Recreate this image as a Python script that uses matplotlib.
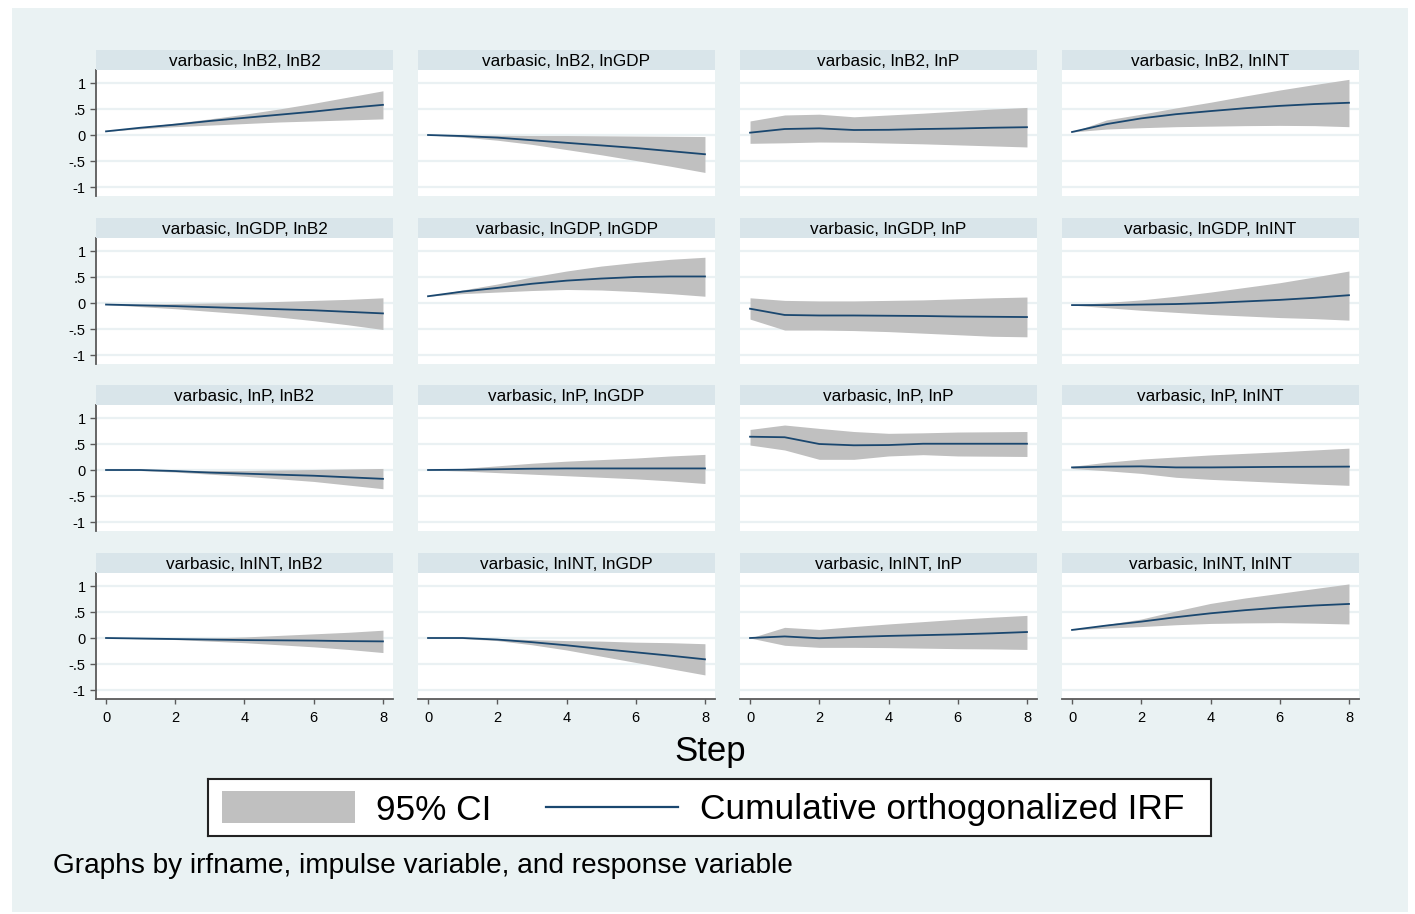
import matplotlib
matplotlib.use("Agg")
import matplotlib.pyplot as plt
from matplotlib.patches import Rectangle
from matplotlib.lines import Line2D

plt.rcParams["font.family"] = ["Liberation Sans", "DejaVu Sans"]

W, H = 1415, 914

steps = [0, 1, 2, 3, 4, 5, 6, 7, 8]
variables = ["lnB2", "lnGDP", "lnP", "lnINT"]
yticks = [-1, -0.5, 0, 0.5, 1]
ytick_labels = ["-1", "-.5", "0", ".5", "1"]
xticks = [0, 2, 4, 6, 8]

# impulse lnB2
b2_b2_irf = [0.07, 0.14, 0.20, 0.27, 0.33, 0.39, 0.45, 0.52, 0.58]
b2_b2_lo = [0.07, 0.12, 0.16, 0.19, 0.22, 0.25, 0.27, 0.29, 0.31]
b2_b2_hi = [0.07, 0.15, 0.23, 0.31, 0.40, 0.50, 0.61, 0.73, 0.85]
b2_gdp_irf = [0, -0.02, -0.05, -0.10, -0.15, -0.20, -0.25, -0.31, -0.37]
b2_gdp_lo = [0, -0.04, -0.10, -0.18, -0.28, -0.38, -0.49, -0.60, -0.72]
b2_gdp_hi = [0, 0, -0.005, -0.01, -0.01, -0.015, -0.02, -0.025, -0.03]
b2_p_irf = [0.045, 0.115, 0.128, 0.096, 0.10, 0.115, 0.125, 0.14, 0.15]
b2_p_lo = [-0.16, -0.15, -0.135, -0.14, -0.155, -0.17, -0.19, -0.21, -0.23]
b2_p_hi = [0.27, 0.385, 0.40, 0.35, 0.385, 0.42, 0.46, 0.50, 0.53]
b2_int_irf = [0.058, 0.21, 0.32, 0.40, 0.46, 0.515, 0.56, 0.595, 0.62]
b2_int_lo = [0.058, 0.115, 0.14, 0.16, 0.17, 0.18, 0.185, 0.18, 0.16]
b2_int_hi = [0.058, 0.29, 0.40, 0.52, 0.63, 0.75, 0.865, 0.97, 1.07]

# impulse lnGDP
gdp_b2_irf = [-0.03, -0.045, -0.06, -0.08, -0.10, -0.12, -0.14, -0.17, -0.20]
gdp_b2_lo = [-0.03, -0.07, -0.11, -0.16, -0.21, -0.27, -0.34, -0.42, -0.51]
gdp_b2_hi = [-0.03, -0.02, -0.01, 0.0, 0.01, 0.03, 0.05, 0.07, 0.10]
gdp_gdp_irf = [0.13, 0.22, 0.29, 0.37, 0.43, 0.47, 0.50, 0.51, 0.51]
gdp_gdp_lo = [0.13, 0.18, 0.21, 0.24, 0.26, 0.25, 0.22, 0.18, 0.13]
gdp_gdp_hi = [0.13, 0.25, 0.365, 0.50, 0.615, 0.71, 0.78, 0.84, 0.88]
gdp_p_irf = [-0.11, -0.23, -0.24, -0.24, -0.245, -0.25, -0.26, -0.265, -0.27]
gdp_p_lo = [-0.31, -0.52, -0.52, -0.53, -0.55, -0.58, -0.61, -0.64, -0.65]
gdp_p_hi = [0.10, 0.05, 0.04, 0.04, 0.05, 0.06, 0.08, 0.10, 0.115]
gdp_int_irf = [-0.04, -0.04, -0.03, -0.02, 0.0, 0.03, 0.06, 0.10, 0.15]
gdp_int_lo = [-0.04, -0.09, -0.14, -0.18, -0.22, -0.25, -0.28, -0.30, -0.33]
gdp_int_hi = [-0.04, 0.01, 0.06, 0.13, 0.21, 0.30, 0.39, 0.50, 0.615]

# impulse lnP
p_b2_irf = [0, 0, -0.02, -0.05, -0.07, -0.09, -0.11, -0.14, -0.17]
p_b2_lo = [0, -0.01, -0.04, -0.08, -0.12, -0.17, -0.22, -0.29, -0.36]
p_b2_hi = [0, 0, -0.01, -0.01, -0.01, 0, 0.01, 0.02, 0.03]
p_gdp_irf = [0, 0.005, 0.015, 0.025, 0.03, 0.03, 0.03, 0.03, 0.03]
p_gdp_lo = [0, -0.02, -0.05, -0.08, -0.11, -0.14, -0.17, -0.21, -0.26]
p_gdp_hi = [0, 0.03, 0.08, 0.13, 0.17, 0.20, 0.23, 0.27, 0.30]
p_p_irf = [0.64, 0.63, 0.50, 0.475, 0.48, 0.505, 0.505, 0.505, 0.505]
p_p_lo = [0.48, 0.385, 0.205, 0.205, 0.27, 0.295, 0.27, 0.265, 0.26]
p_p_hi = [0.78, 0.865, 0.80, 0.74, 0.705, 0.715, 0.73, 0.735, 0.74]
p_int_irf = [0.05, 0.065, 0.07, 0.05, 0.05, 0.055, 0.06, 0.062, 0.065]
p_int_lo = [0.03, -0.015, -0.065, -0.14, -0.18, -0.21, -0.24, -0.27, -0.295]
p_int_hi = [0.07, 0.15, 0.21, 0.25, 0.29, 0.32, 0.35, 0.385, 0.42]

# impulse lnINT
int_b2_irf = [0, -0.01, -0.02, -0.03, -0.04, -0.045, -0.05, -0.06, -0.065]
int_b2_lo = [0, -0.015, -0.03, -0.06, -0.09, -0.13, -0.17, -0.22, -0.28]
int_b2_hi = [0, -0.005, -0.01, 0.0, 0.02, 0.05, 0.08, 0.11, 0.15]
int_gdp_irf = [0, 0, -0.03, -0.08, -0.14, -0.21, -0.275, -0.34, -0.41]
int_gdp_lo = [0, -0.01, -0.05, -0.13, -0.23, -0.35, -0.47, -0.59, -0.71]
int_gdp_hi = [0, 0, -0.01, -0.03, -0.05, -0.06, -0.08, -0.09, -0.11]
int_p_irf = [0, 0.03, -0.005, 0.02, 0.04, 0.055, 0.07, 0.09, 0.115]
int_p_lo = [0, -0.14, -0.18, -0.18, -0.185, -0.195, -0.205, -0.21, -0.22]
int_p_hi = [0, 0.205, 0.165, 0.22, 0.27, 0.315, 0.36, 0.40, 0.435]
int_int_irf = [0.155, 0.24, 0.315, 0.40, 0.475, 0.535, 0.585, 0.625, 0.655]
int_int_lo = [0.155, 0.19, 0.22, 0.255, 0.28, 0.29, 0.295, 0.285, 0.27]
int_int_hi = [0.155, 0.26, 0.365, 0.52, 0.665, 0.77, 0.86, 0.95, 1.04]

panels = [
    [(b2_b2_irf, b2_b2_lo, b2_b2_hi), (b2_gdp_irf, b2_gdp_lo, b2_gdp_hi),
     (b2_p_irf, b2_p_lo, b2_p_hi), (b2_int_irf, b2_int_lo, b2_int_hi)],
    [(gdp_b2_irf, gdp_b2_lo, gdp_b2_hi), (gdp_gdp_irf, gdp_gdp_lo, gdp_gdp_hi),
     (gdp_p_irf, gdp_p_lo, gdp_p_hi), (gdp_int_irf, gdp_int_lo, gdp_int_hi)],
    [(p_b2_irf, p_b2_lo, p_b2_hi), (p_gdp_irf, p_gdp_lo, p_gdp_hi),
     (p_p_irf, p_p_lo, p_p_hi), (p_int_irf, p_int_lo, p_int_hi)],
    [(int_b2_irf, int_b2_lo, int_b2_hi), (int_gdp_irf, int_gdp_lo, int_gdp_hi),
     (int_p_irf, int_p_lo, int_p_hi), (int_int_irf, int_int_lo, int_int_hi)],
]

BG = "#EAF2F3"
STRIP = "#D9E5EA"
GRID = "#EAF1F3"
NAVY = "#1A476F"
CI = "#C0C0C0"
AXIS = "#5A5A5A"


def px(x, y, w, h):
    # pixel box (top-left origin) -> figure fraction
    return [x / W, 1 - (y + h) / H, w / W, h / H]


fig = plt.figure(figsize=(W / 100, H / 100), dpi=100, facecolor="white")
fig.patches.append(Rectangle((12 / W, 2 / H), 1396 / W, 904 / H,
                             transform=fig.transFigure, facecolor=BG,
                             edgecolor="none", zorder=-10))

col_x = [96, 418, 740, 1062]
row_y = [70, 238, 405, 573]
pw, ph, sh = 297, 126, 20

for r in range(4):
    for c in range(4):
        irf, lo, hi = panels[r][c]
        ax = fig.add_axes(px(col_x[c], row_y[r], pw, ph))
        ax.set_facecolor("white")
        for y in yticks:
            ax.axhline(y, color=GRID, lw=1.6, zorder=0)
        ax.fill_between(steps, lo, hi, color=CI, lw=0, zorder=1)
        ax.plot(steps, irf, color=NAVY, lw=1.3, zorder=2)
        ax.set_xlim(-0.29, 8.29)
        ax.set_ylim(-1.173, 1.25)
        for s in ax.spines.values():
            s.set_visible(False)
        if c == 0:
            ax.spines["left"].set_visible(True)
            ax.spines["left"].set_color(AXIS)
            ax.spines["left"].set_linewidth(1.3)
            ax.set_yticks(yticks)
            ax.set_yticklabels(ytick_labels)
            ax.tick_params(axis="y", length=4.5, width=1, color=AXIS,
                           labelsize=10.5, pad=3)
        else:
            ax.set_yticks([])
        if r == 3:
            ax.spines["bottom"].set_visible(True)
            ax.spines["bottom"].set_color(AXIS)
            ax.spines["bottom"].set_linewidth(1.3)
            ax.set_xticks(xticks)
            ax.tick_params(axis="x", length=3.5, width=1, color=AXIS,
                           labelsize=10.5, pad=5)
        else:
            ax.set_xticks([])

        sax = fig.add_axes(px(col_x[c], row_y[r] - sh, pw, sh))
        sax.set_facecolor(STRIP)
        sax.set_xticks([])
        sax.set_yticks([])
        for s in sax.spines.values():
            s.set_visible(False)
        sax.text(0.5, 0.42, f"varbasic, {variables[r]}, {variables[c]}",
                 ha="center", va="center", fontsize=12.3,
                 transform=sax.transAxes)

fig.text(710 / W, 1 - 752 / H, "Step", ha="center", va="center", fontsize=25)

# legend box
lax = fig.add_axes(px(208, 779, 1003, 57))
lax.set_xlim(208, 1211)
lax.set_ylim(836, 779)
lax.set_facecolor("white")
lax.set_xticks([])
lax.set_yticks([])
for s in lax.spines.values():
    s.set_color("#222222")
    s.set_linewidth(1.5)
lax.add_patch(Rectangle((222, 791), 133, 32, facecolor=CI, edgecolor="none"))
lax.text(376, 810, "95% CI", ha="left", va="center", fontsize=25.4)
lax.add_line(Line2D([546, 678], [807, 807], color=NAVY, lw=1.6))
lax.text(700, 810, "Cumulative orthogonalized IRF", ha="left", va="center",
         fontsize=25.4)

fig.text(53 / W, 1 - 866 / H,
         "Graphs by irfname, impulse variable, and response variable",
         ha="left", va="center", fontsize=20.2)

fig.savefig("out.png", dpi=100, facecolor="white")
